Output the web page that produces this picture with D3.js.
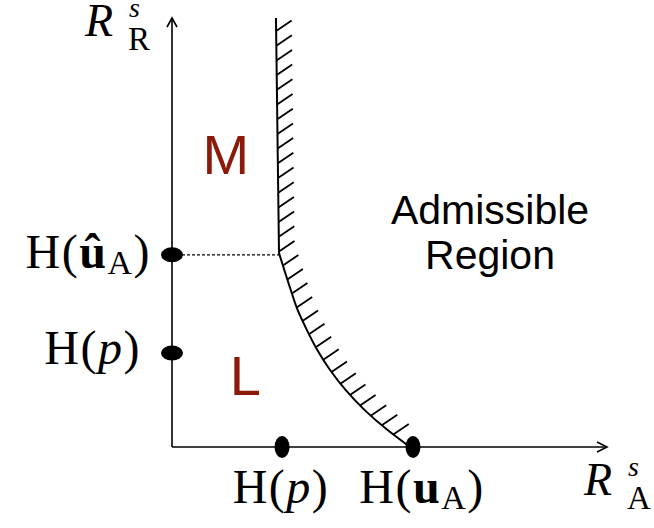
<!DOCTYPE html>
<html>
<head>
<meta charset="utf-8">
<script src="https://cdn.jsdelivr.net/npm/d3@7"></script>
<style>
  html, body { margin: 0; padding: 0; background: #fff; }
  svg { display: block; }
  .math { font-family: "Liberation Serif", "DejaVu Serif", serif; fill: #000; }
  .sans { font-family: "Liberation Sans", Arial, sans-serif; }
</style>
</head>
<body>
<svg id="chart" width="654" height="528"></svg>
<script>
// Rate axes run from 0 to 10 on both R_A^s and R_R^s.
const xDomain = [0, 10];
const yDomain = [0, 10];

// Upper (vertical) part of the boundary: R_A^s stays near H(û_A) above the corner.
const upperRA = [2.39, 2.46];
const upperRR = [10.0, 4.52];

// Lower (curved) part of the boundary, from the corner down to H(u_A).
const lowerRA = [2.46, 2.58, 2.73, 2.89, 3.10, 3.34, 3.63, 3.99, 4.43, 4.95, 5.47];
const lowerRR = [4.52, 4.13, 3.66, 3.19, 2.73, 2.26, 1.80, 1.33, 0.86, 0.40, 0.00];

// Entropy values marked on each axis.
const xMarkValues = [2.53, 5.54];          // H(p), H(u_A)
const yMarkValues = [4.48, 2.19];          // H(û_A), H(p)

// Region labels.
const regionNames = ["M", "L"];
const regionRA = [0.70, 1.33];
const regionRR = [6.37, 1.21];

const svg = d3.select("#chart");
const x = d3.scaleLinear().domain(xDomain).range([172, 607]);
const y = d3.scaleLinear().domain(yDomain).range([447, 18]);

// Axes with open arrowheads
const axes = svg.append("g").attr("stroke", "#000").attr("stroke-width", 1.6).attr("fill", "none");
axes.append("line").attr("x1", x(0)).attr("y1", y(0)).attr("x2", x(10)).attr("y2", y(0));
axes.append("line").attr("x1", x(0)).attr("y1", y(0)).attr("x2", x(0)).attr("y2", y(10));
axes.append("path").attr("d", `M${x(10) - 10},${y(0) - 5}L${x(10)},${y(0)}L${x(10) - 10},${y(0) + 5}`);
axes.append("path").attr("d", `M${x(0) - 5},${y(10) + 9}L${x(0)},${y(10)}L${x(0) + 5},${y(10) + 9}`);

// Dotted guide from H(û_A) on the vertical axis to the corner of the boundary
svg.append("line")
  .attr("x1", x(0)).attr("y1", y(yMarkValues[0]))
  .attr("x2", x(upperRA[1])).attr("y2", y(yMarkValues[0]))
  .attr("stroke", "#000").attr("stroke-width", 1.2).attr("stroke-dasharray", "3,2");

// Boundary: straight upper piece followed by a smooth convex arc
const upperPts = upperRA.map((v, i) => [x(v), y(upperRR[i])]);
const lowerPts = lowerRA.map((v, i) => [x(v), y(lowerRR[i])]);
const straight = d3.line();
const smooth = d3.line().curve(d3.curveMonotoneY);
const boundary = svg.append("path")
  .attr("d", straight(upperPts) + smooth(lowerPts).replace(/^M[^A-Za-z]*/, ""))
  .attr("fill", "none").attr("stroke", "#000").attr("stroke-width", 2);

// Hatching on the admissible side, spaced evenly along the boundary
const node = boundary.node();
const total = node.getTotalLength();
const hatch = svg.append("g").attr("stroke", "#000").attr("stroke-width", 1.8);
for (let s = 13; s < total - 8; s += 14.7) {
  const p = node.getPointAtLength(s);
  hatch.append("line")
    .attr("x1", p.x).attr("y1", p.y)
    .attr("x2", p.x + 15.5).attr("y2", p.y - 10.5);
}

// Marked points on the axes
svg.append("g").selectAll("ellipse").data(yMarkValues).join("ellipse")
  .attr("cx", x(0)).attr("cy", d => y(d)).attr("rx", 11).attr("ry", 7.5).attr("fill", "#000");
svg.append("g").selectAll("ellipse").data(xMarkValues).join("ellipse")
  .attr("cx", d => x(d)).attr("cy", y(0)).attr("rx", 7.5).attr("ry", 11).attr("fill", "#000");

// Region letters
svg.append("g").selectAll("text").data(regionNames).join("text")
  .attr("class", "sans")
  .attr("x", (d, i) => x(regionRA[i])).attr("y", (d, i) => y(regionRR[i]))
  .attr("font-size", 56).attr("fill", "#8b1a0a")
  .text(d => d);

// Admissible region label
const adm = svg.append("text").attr("class", "sans").attr("font-size", 41)
  .attr("text-anchor", "middle").attr("fill", "#000");
adm.append("tspan").attr("x", 490).attr("y", 224).text("Admissible");
adm.append("tspan").attr("x", 490).attr("y", 269).text("Region");

// H(·) label helper: main text, optional bold argument, subscript
function hLabel(g, parts) {
  const t = g.append("text").attr("class", "math").attr("font-size", 48)
    .attr("letter-spacing", 1.5);
  parts.forEach(p => {
    const s = t.append("tspan").text(p.t);
    if (p.bold) s.attr("font-weight", "bold");
    if (p.italic) s.attr("font-style", "italic");
    if (p.sub) s.attr("font-size", 34).attr("dy", 6);
    if (p.back) s.attr("dy", -6);
  });
  return t;
}

// Vertical axis labels (right aligned)
const yl1 = hLabel(svg, [{t: "H("}, {t: "û", bold: true}, {t: "A", sub: true}, {t: ")", back: true}]);
yl1.attr("text-anchor", "end").attr("x", 151).attr("y", 268);
const yl2 = hLabel(svg, [{t: "H("}, {t: "p", italic: true}, {t: ")"}]);
yl2.attr("text-anchor", "end").attr("x", 141).attr("y", 364);

// Horizontal axis labels (centred under their points)
const xl1 = hLabel(svg, [{t: "H("}, {t: "p", italic: true}, {t: ")"}]);
xl1.attr("text-anchor", "middle").attr("x", 281).attr("y", 503);
const xl2 = hLabel(svg, [{t: "H("}, {t: "u", bold: true}, {t: "A", sub: true}, {t: ")", back: true}]);
xl2.attr("text-anchor", "middle").attr("x", 422).attr("y", 503);

// Axis titles R^s_R and R^s_A
function rateTitle(xPos, base, sub) {
  const g = svg.append("g").attr("class", "math");
  g.append("text").attr("x", xPos).attr("y", base).attr("font-size", 46)
    .attr("font-style", "italic").text("R");
  g.append("text").attr("x", xPos + 44).attr("y", base - 19).attr("font-size", 28)
    .attr("font-style", "italic").text("s");
  g.append("text").attr("x", xPos + 43).attr("y", base + 14).attr("font-size", 33).text(sub);
}
rateTitle(85, 36, "R");
rateTitle(584, 495, "A");
</script>
</body>
</html>
